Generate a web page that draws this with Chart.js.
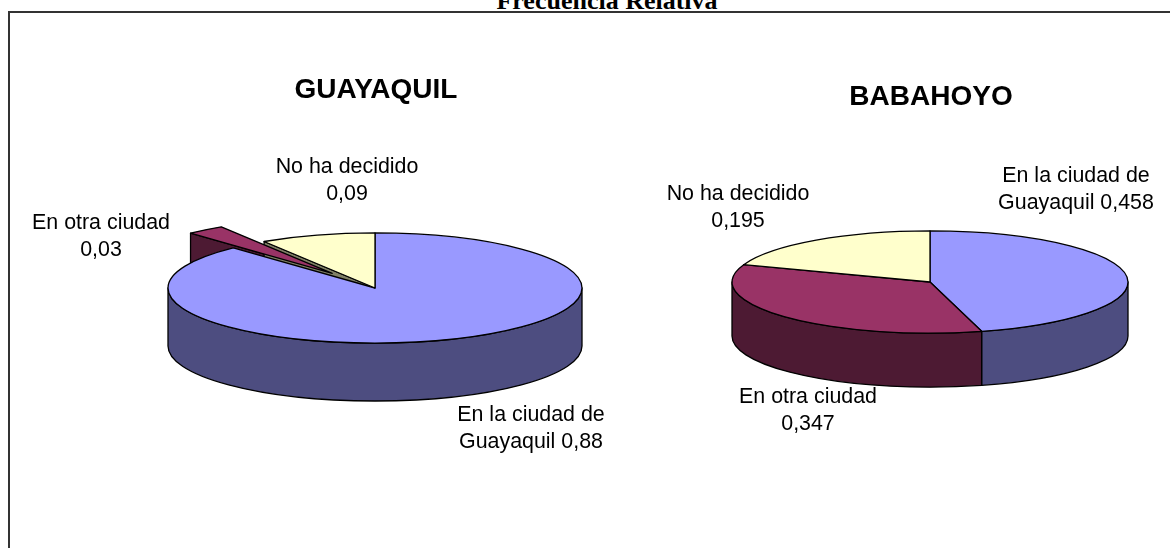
<!DOCTYPE html>
<html>
<head>
<meta charset="utf-8">
<title>Frecuencia Relativa</title>
<script src="https://cdn.jsdelivr.net/npm/chart.js@4.4.0/dist/chart.umd.min.js"></script>
<style>
  html, body { margin: 0; padding: 0; background: #fff; overflow: hidden; }
  #page { position: relative; width: 1170px; height: 548px; overflow: hidden; }
  #frame { position: absolute; left: 8px; top: 11px; width: 1300px; height: 700px;
           border-left: 2px solid #333; border-top: 2px solid #333; }
  #title { position: absolute; left: 407px; width: 400px; top: -12px; text-align: center;
           font: bold 26px "Liberation Serif", "Times New Roman", serif; line-height: 26px; }
  canvas { position: absolute; left: 0; top: 0; }
</style>
</head>
<body>
<div id="page">
  <div id="frame"></div>
  <div id="title">Frecuencia Relativa</div>
  <canvas id="gye" width="1170" height="548"></canvas>
  <canvas id="bab" width="1170" height="548"></canvas>
</div>
<script>
// datos
const categories = ['En la ciudad de Guayaquil', 'En otra ciudad', 'No ha decidido'];
const guayaquil = [0.88, 0.03, 0.09];
const babahoyo = [0.458, 0.347, 0.195];

// colores (cara superior / lateral)
const topColors = ['#9999FF', '#993366', '#FFFFCC'];
const sideColors = ['#4D4D80', '#4D1A33', '#808066'];

const fmt = v => String(v).replace('.', ',');

// pastel 3D dibujado a partir de los arcos que calcula Chart.js
const pie3d = {
  id: 'pie3d',
  beforeDatasetsDraw(chart, args, o) {
    const ctx = chart.ctx;
    const arcs = chart.getDatasetMeta(0).data;
    const ds = chart.data.datasets[0];

    const parts = arcs.map((arc, i) => {
      const p = arc.getProps(['x', 'y', 'startAngle', 'endAngle', 'outerRadius'], true);
      const mid = (p.startAngle + p.endAngle) / 2;
      const ex = (o.explode[i] || 0) * p.outerRadius;
      return {
        cx: p.x + Math.cos(mid) * ex,
        cy: p.y + Math.sin(mid) * ex * o.tilt,
        rx: p.outerRadius, ry: p.outerRadius * o.tilt, h: p.outerRadius * o.depth,
        a0: p.startAngle, a1: p.endAngle, mid,
        top: ds.backgroundColor[i], side: o.sideColors[i]
      };
    });

    const pt = (s, a) => [s.cx + s.rx * Math.cos(a), s.cy + s.ry * Math.sin(a)];

    ctx.save();
    ctx.lineWidth = 1.3;
    ctx.strokeStyle = '#000';
    ctx.lineJoin = 'round';

    // caras radiales visibles
    const faces = [];
    parts.forEach(s => {
      if (Math.cos(s.a0) < 0) faces.push({ s, a: s.a0 });
      if (Math.cos(s.a1) > 0) faces.push({ s, a: s.a1 });
    });
    faces.sort((f, g) => (f.s.cy + 0.5 * f.s.ry * Math.sin(f.a)) - (g.s.cy + 0.5 * g.s.ry * Math.sin(g.a)));
    faces.forEach(({ s, a }) => {
      const [x, y] = pt(s, a);
      ctx.beginPath();
      ctx.moveTo(s.cx, s.cy);
      ctx.lineTo(x, y);
      ctx.lineTo(x, y + s.h);
      ctx.lineTo(s.cx, s.cy + s.h);
      ctx.closePath();
      ctx.fillStyle = s.side;
      ctx.fill();
      ctx.stroke();
    });

    // pared exterior (mitad delantera)
    parts.forEach(s => {
      const a = Math.max(s.a0, 0), b = Math.min(s.a1, Math.PI);
      if (a >= b) return;
      const [xb, yb] = pt(s, b);
      ctx.beginPath();
      ctx.ellipse(s.cx, s.cy, s.rx, s.ry, 0, a, b);
      ctx.lineTo(xb, yb + s.h);
      ctx.ellipse(s.cx, s.cy + s.h, s.rx, s.ry, 0, b, a, true);
      ctx.closePath();
      ctx.fillStyle = s.side;
      ctx.fill();
      ctx.stroke();
    });

    // caras superiores
    parts.slice().sort((p, q) => p.cy - q.cy).forEach(s => {
      ctx.beginPath();
      ctx.moveTo(s.cx, s.cy);
      ctx.ellipse(s.cx, s.cy, s.rx, s.ry, 0, s.a0, s.a1);
      ctx.closePath();
      ctx.fillStyle = s.top;
      ctx.fill();
      ctx.stroke();
    });

    // titulo y etiquetas
    const x0 = arcs[0].x, y0 = arcs[0].y;
    ctx.fillStyle = '#000';
    ctx.textAlign = 'center';
    ctx.textBaseline = 'middle';
    ctx.font = 'bold 28px "Liberation Sans", Arial, sans-serif';
    ctx.fillText(o.title, x0 + o.titlePos[0], y0 + o.titlePos[1]);

    ctx.font = '21.4px "Liberation Sans", Arial, sans-serif';
    const values = ds.data;
    chart.data.labels.forEach((name, i) => {
      const words = (name + ' ' + fmt(values[i])).split(' ');
      const lines = [];
      let cur = '';
      words.forEach(w => {
        const t = cur ? cur + ' ' + w : w;
        if (cur && ctx.measureText(t).width > o.wrap) { lines.push(cur); cur = w; }
        else cur = t;
      });
      lines.push(cur);
      const [lx, ly] = o.labelPos[i];
      lines.forEach((t, k) => {
        ctx.fillText(t, x0 + lx, y0 + ly + (k - (lines.length - 1) / 2) * o.lineH);
      });
    });

    ctx.restore();
    return false;
  }
};

function makePie(id, title, values, layout) {
  return new Chart(document.getElementById(id), {
    type: 'pie',
    data: {
      labels: categories,
      datasets: [{ data: values, backgroundColor: topColors, borderWidth: 0, hoverOffset: 0 }]
    },
    options: {
      responsive: false,
      animation: false,
      devicePixelRatio: 1,
      events: [],
      layout: { padding: layout.padding },
      plugins: {
        legend: { display: false },
        tooltip: { enabled: false },
        pie3d: {
          title: title,
          sideColors: sideColors,
          tilt: layout.tilt,
          depth: layout.depth,
          explode: layout.explode,
          titlePos: layout.titlePos,
          labelPos: layout.labelPos,
          wrap: 170,
          lineH: 27
        }
      }
    },
    plugins: [pie3d]
  });
}

makePie('gye', 'GUAYAQUIL', guayaquil, {
  padding: { left: 168, right: 588, top: 81, bottom: 53 },
  tilt: 0.266, depth: 0.28,
  explode: [0, 0.337, 0],
  titlePos: [1, -198],
  labelPos: [[156, 141], [-274, -51], [-28, -107]]
});

makePie('bab', 'BABAHOYO', babahoyo, {
  padding: { left: 732, right: 42, top: 84, bottom: 68 },
  tilt: 0.258, depth: 0.273,
  explode: [0, 0, 0],
  titlePos: [1, -185],
  labelPos: [[146, -92], [-122, 129], [-192, -74]]
});
</script>
</body>
</html>
